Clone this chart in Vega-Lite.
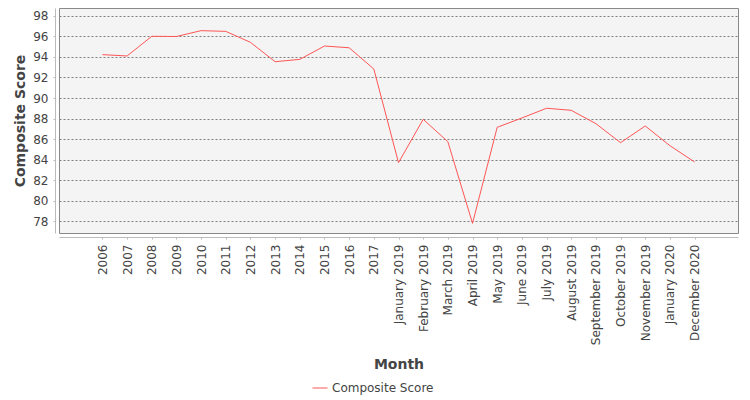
{
  "$schema": "https://vega.github.io/schema/vega-lite/v6.json",
  "width": 679,
  "height": 225,
  "autosize": "none",
  "padding": {"left": 59, "top": 8, "right": 12, "bottom": 167},
  "background": "white",
  "data": {
    "values": [
      {"month": "2006", "score": 94.23, "series": "Composite Score"},
      {"month": "2007", "score": 94.1, "series": "Composite Score"},
      {"month": "2008", "score": 96.02, "series": "Composite Score"},
      {"month": "2009", "score": 96.0, "series": "Composite Score"},
      {"month": "2010", "score": 96.57, "series": "Composite Score"},
      {"month": "2011", "score": 96.5, "series": "Composite Score"},
      {"month": "2012", "score": 95.43, "series": "Composite Score"},
      {"month": "2013", "score": 93.54, "series": "Composite Score"},
      {"month": "2014", "score": 93.77, "series": "Composite Score"},
      {"month": "2015", "score": 95.07, "series": "Composite Score"},
      {"month": "2016", "score": 94.9, "series": "Composite Score"},
      {"month": "2017", "score": 92.83, "series": "Composite Score"},
      {"month": "January 2019", "score": 83.69, "series": "Composite Score"},
      {"month": "February 2019", "score": 87.92, "series": "Composite Score"},
      {"month": "March 2019", "score": 85.74, "series": "Composite Score"},
      {"month": "April 2019", "score": 77.77, "series": "Composite Score"},
      {"month": "May 2019", "score": 87.14, "series": "Composite Score"},
      {"month": "June 2019", "score": 88.05, "series": "Composite Score"},
      {"month": "July 2019", "score": 89.0, "series": "Composite Score"},
      {"month": "August 2019", "score": 88.8, "series": "Composite Score"},
      {"month": "September 2019", "score": 87.5, "series": "Composite Score"},
      {"month": "October 2019", "score": 85.64, "series": "Composite Score"},
      {"month": "November 2019", "score": 87.27, "series": "Composite Score"},
      {"month": "January 2020", "score": 85.35, "series": "Composite Score"},
      {"month": "December 2020", "score": 83.76, "series": "Composite Score"}
    ]
  },
  "mark": {"type": "line", "strokeWidth": 1, "interpolate": "linear"},
  "encoding": {
    "x": {
      "field": "month",
      "type": "ordinal",
      "sort": null,
      "title": "Month",
      "scale": {
        "type": "point",
        "padding": 0.76,
        "domain": ["", "2006", "2007", "2008", "2009", "2010", "2011", "2012", "2013", "2014", "2015", "2016", "2017", "January 2019", "February 2019", "March 2019", "April 2019", "May 2019", "June 2019", "July 2019", "August 2019", "September 2019", "October 2019", "November 2019", "January 2020", "December 2020", " "]
      },
      "axis": {
        "values": ["2006", "2007", "2008", "2009", "2010", "2011", "2012", "2013", "2014", "2015", "2016", "2017", "January 2019", "February 2019", "March 2019", "April 2019", "May 2019", "June 2019", "July 2019", "August 2019", "September 2019", "October 2019", "November 2019", "January 2020", "December 2020"],
        "labelAngle": -90,
        "labelAlign": "right",
        "labelBaseline": "middle",
        "offset": 4,
        "tickSize": 2,
        "labelPadding": 5,
        "titlePadding": 13,
        "grid": false
      }
    },
    "y": {
      "field": "score",
      "type": "quantitative",
      "title": "Composite Score",
      "scale": {"domain": [76.83, 98.78], "nice": false, "zero": false},
      "axis": {
        "values": [78, 80, 82, 84, 86, 88, 90, 92, 94, 96, 98],
        "offset": 4,
        "tickSize": 2,
        "labelPadding": 5,
        "titlePadding": 5,
        "grid": true,
        "gridDash": [2, 2],
        "gridColor": "#808080",
        "gridOpacity": 1
      }
    },
    "color": {
      "field": "series",
      "type": "nominal",
      "title": null,
      "scale": {"range": ["#ff5555"]},
      "legend": {
        "orient": "none",
        "legendX": 253,
        "legendY": 372,
        "symbolType": "stroke",
        "symbolSize": 225,
        "symbolStrokeWidth": 1,
        "labelFontSize": 12,
        "labelColor": "#444444"
      }
    }
  },
  "config": {
    "font": "DejaVu Sans",
    "view": {"fill": "#f4f4f4", "stroke": "#888888", "strokeWidth": 1},
    "axis": {
      "domainColor": "#bbbbbb",
      "tickColor": "#bbbbbb",
      "labelColor": "#444444",
      "labelFontSize": 12,
      "titleColor": "#444444",
      "titleFontSize": 14,
      "titleFontWeight": "bold"
    },
    "legend": {"labelFont": "DejaVu Sans"}
  }
}
